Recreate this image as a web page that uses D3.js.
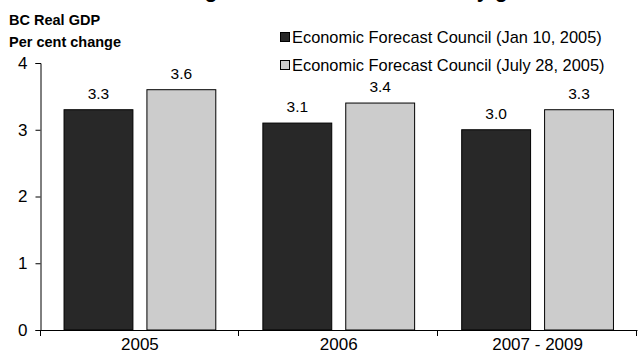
<!DOCTYPE html>
<html>
<head>
<meta charset="utf-8">
<script src="https://cdn.jsdelivr.net/npm/d3@7"></script>
<style>
  body { margin: 0; background: #fff; }
  svg { display: block; font-family: "Liberation Sans", Arial, sans-serif; }
</style>
</head>
<body>
<script>
const w = 638;
const h = 358;

// data
const categories = ['2005', '2006', '2007 - 2009'];
const seriesNames = ['Economic Forecast Council (Jan 10, 2005)', 'Economic Forecast Council (July 28, 2005)'];
const janValues = [3.3, 3.1, 3.0];
const julyValues = [3.6, 3.4, 3.3];
const yTicks = [0, 1, 2, 3, 4];
const colors = ['#282828', '#cccccc'];
const titleText = 'Forecasters see stronger outlook as the economy grows';

const margin = { left: 40.5, right: 1, top: 63, bottom: 28 };
const font = '"Liberation Sans", Arial, sans-serif';

const svg = d3.select('body')
  .append('svg')
  .attr('width', w)
  .attr('height', h);

const x = d3.scaleBand()
  .domain(categories)
  .range([margin.left, w - margin.right]);

const x1 = d3.scaleBand()
  .domain(seriesNames)
  .range([0, x.bandwidth()])
  .paddingInner(0.169)
  .paddingOuter(0.284);

const y = d3.scaleLinear()
  .domain([0, 4])
  .range([h - margin.bottom, margin.top]);

// title, mostly cut off by the top edge in the original:
// only the descenders of a few letters peek through
const title = svg.append('text')
  .attr('x', 0)
  .attr('y', -3)
  .style('font-size', '22px')
  .style('font-weight', 'bold')
  .text(titleText);
{
  const node = title.node();
  const gi = titleText.indexOf('stronger') + 5;
  const yi = titleText.indexOf('economy') + 6;
  const mid = i => node.getSubStringLength(0, i) + node.getSubStringLength(i, 1) / 2;
  const k = 272 / (mid(yi) - mid(gi));
  title.style('font-size', (22 * k) + 'px')
    .attr('x', 205 - mid(gi) * k);
}

// y axis title
svg.append('text')
  .attr('x', 9)
  .attr('y', 25)
  .style('font-size', '14.5px')
  .style('font-weight', 'bold')
  .text('BC Real GDP');
svg.append('text')
  .attr('x', 9)
  .attr('y', 47)
  .style('font-size', '14.5px')
  .style('font-weight', 'bold')
  .text('Per cent change');

// legend
const legend = svg.selectAll('.legend')
  .data(seriesNames)
  .enter()
  .append('g')
  .attr('class', 'legend')
  .attr('transform', (d, i) => `translate(280, ${32 + i * 28})`);

legend.append('rect')
  .attr('x', 0.5)
  .attr('y', 0.5)
  .attr('width', 9)
  .attr('height', 9)
  .style('fill', (d, i) => colors[i])
  .style('stroke', '#000');

legend.append('text')
  .attr('x', 12)
  .attr('y', 10.5)
  .style('font-size', '16.4px')
  .text(d => d);

// bars
const rows = categories.map((c, i) => ({
  cat: c,
  vals: [janValues[i], julyValues[i]]
}));

const groups = svg.selectAll('.grp')
  .data(rows)
  .enter()
  .append('g')
  .attr('class', 'grp')
  .attr('transform', d => `translate(${x(d.cat)}, 0)`);

groups.selectAll('rect')
  .data(d => d.vals.map((v, i) => ({ name: seriesNames[i], v: v, i: i })))
  .enter()
  .append('rect')
  .attr('x', d => x1(d.name))
  .attr('y', d => y(d.v))
  .attr('width', x1.bandwidth())
  .attr('height', d => y(0) - y(d.v))
  .style('fill', d => colors[d.i])
  .style('stroke', '#000')
  .style('stroke-width', 1);

groups.selectAll('.val')
  .data(d => d.vals.map((v, i) => ({ name: seriesNames[i], v: v })))
  .enter()
  .append('text')
  .attr('class', 'val')
  .attr('x', d => x1(d.name) + x1.bandwidth() / 2)
  .attr('y', d => y(d.v) - 11)
  .attr('text-anchor', 'middle')
  .style('font-size', '15.5px')
  .text(d => d.v.toFixed(1));

// y axis
const yAxis = svg.append('g')
  .attr('transform', `translate(${margin.left}, 0)`)
  .call(d3.axisLeft(y).tickValues(yTicks).tickFormat(d3.format('d')).tickSizeOuter(0).tickSize(5).tickPadding(8));
yAxis.selectAll('text').style('font-size', '17px').style('fill', '#000').style('font-family', font);

// x axis: labels centred in bands, ticks on band edges
const xAxis = svg.append('g')
  .attr('transform', `translate(0, ${y(0)})`)
  .call(d3.axisBottom(x).tickSize(0).tickSizeOuter(0).tickPadding(8));
xAxis.selectAll('text').style('font-size', '17px').style('fill', '#000').style('font-family', font);

const edges = categories.map(c => x(c)).concat([x.range()[1]]);
svg.selectAll('.edge')
  .data(edges)
  .enter()
  .append('line')
  .attr('class', 'edge')
  .attr('x1', d => Math.round(d) - 0.5)
  .attr('x2', d => Math.round(d) - 0.5)
  .attr('y1', y(0))
  .attr('y2', y(0) + 6)
  .style('stroke', '#000');
</script>
</body>
</html>
